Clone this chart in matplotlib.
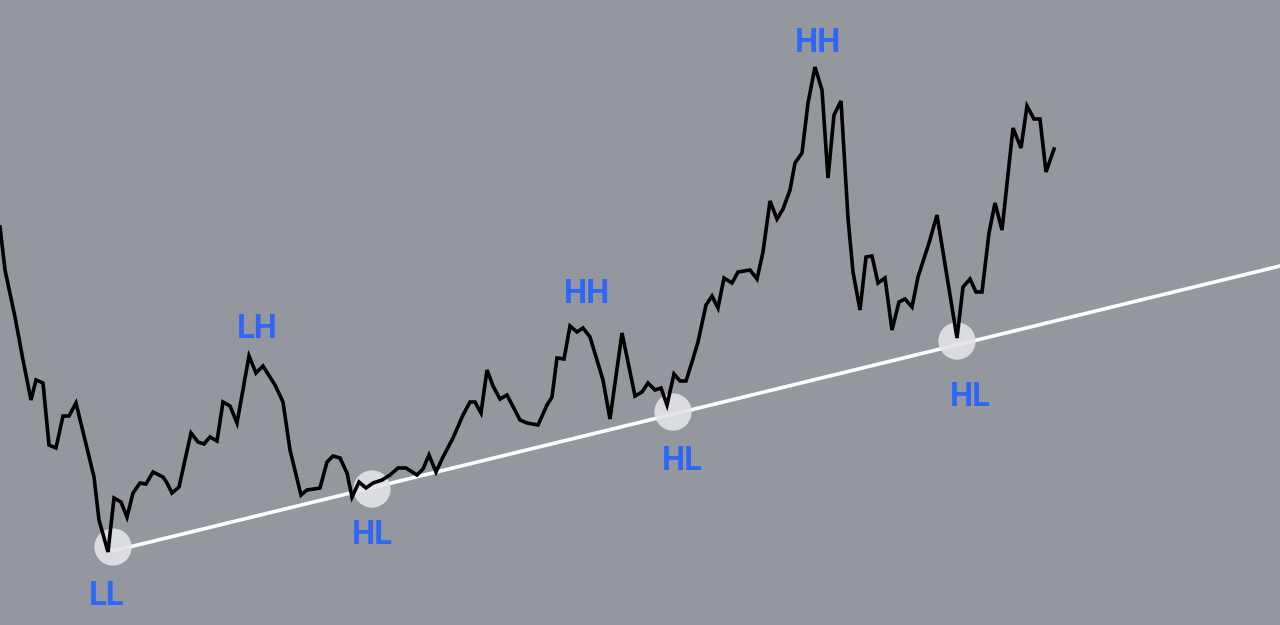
import matplotlib.pyplot as plt
import numpy as np

# price path (time position, price level)
t = [0, 5, 15, 23, 31, 36, 43, 49, 56, 63, 69, 76, 85, 94, 99, 108, 114, 121,
     127, 133, 140, 146, 153, 163, 167, 172, 179, 191, 198, 204, 210, 217, 223,
     230, 237, 249, 256, 263, 275, 283, 290, 301, 307, 320, 327, 333, 340, 347,
     352, 359, 366, 373, 382, 390, 398, 406, 417, 423, 429, 436, 443, 453, 463,
     470, 475, 481, 487, 493, 500, 507, 520, 527, 538, 547, 552, 557, 564, 570,
     577, 583, 590, 603, 610, 622, 635, 642, 648, 655, 661, 667, 674, 680, 686,
     692, 698, 706, 712, 718, 724, 732, 738, 750, 757, 763, 770, 777, 783, 790,
     795, 802, 808, 815, 822, 828, 834, 841, 848, 853, 860, 866, 872, 878, 885,
     892, 899, 905, 912, 918, 929, 937, 957, 963, 970, 976, 982, 989, 995, 1002,
     1013, 1021, 1027, 1034, 1040, 1046, 1054]
price = [398, 355, 308, 265, 225, 245, 242, 180, 177, 209, 209, 222, 185, 148,
         105, 73, 127, 123, 108, 132, 142, 141, 153, 148, 142, 132, 138, 192,
         183, 181, 188, 184, 223, 219, 202, 269, 252, 259, 240, 223, 175, 130,
         135, 137, 163, 169, 167, 152, 128, 143, 137, 142, 145, 150, 157, 157,
         150, 156, 170, 153, 168, 187, 210, 223, 223, 212, 255, 239, 226, 230,
         205, 202, 200, 220, 228, 267, 266, 299, 293, 297, 288, 245, 206, 292,
         229, 233, 242, 235, 237, 220, 251, 244, 244, 263, 283, 320, 329, 317,
         347, 342, 353, 355, 346, 373, 424, 406, 416, 435, 462, 472, 522, 558,
         535, 447, 510, 524, 407, 353, 315, 368, 369, 342, 347, 295, 323, 326,
         318, 348, 382, 410, 287, 338, 346, 333, 333, 392, 422, 395, 497, 477,
         519, 506, 506, 453, 476]

# swing points and their labels
swing_t = [113, 372, 673, 957]
swing_p = [78, 136, 213, 284]
label_t = [107, 257, 372, 587, 682, 818, 970]
label_p = [29, 296, 90, 331, 164, 582, 228]
labels = ["LL", "LH", "HL", "HH", "HL", "HH", "HL"]

# trendline through the higher lows
trend_t = [113, 1280]
trend_p = [74, 359]

bg = "#95979f"
fig = plt.figure(figsize=(12.8, 6.25), dpi=100, facecolor=bg)
ax = fig.add_axes([0, 0, 1, 1])
ax.set_facecolor(bg)

ax.plot(trend_t, trend_p, color="white", lw=2.6, solid_capstyle="round", zorder=2)
ax.scatter(swing_t, swing_p, s=720, color="#e3e4e8", alpha=0.9, edgecolors="none", zorder=3)
ax.plot(t, price, color="black", lw=2.6, solid_joinstyle="miter", zorder=4)

for x, y, s in zip(label_t, label_p, labels):
    ax.text(x, y, s, color="#2f66f6", fontsize=23.5, fontweight="bold",
            family="Roboto", ha="center", va="center", zorder=5)

ax.set_xlim(0, 1280)
ax.set_ylim(0, 625)
ax.axis("off")

fig.savefig("out.png", dpi=100, facecolor=bg)
